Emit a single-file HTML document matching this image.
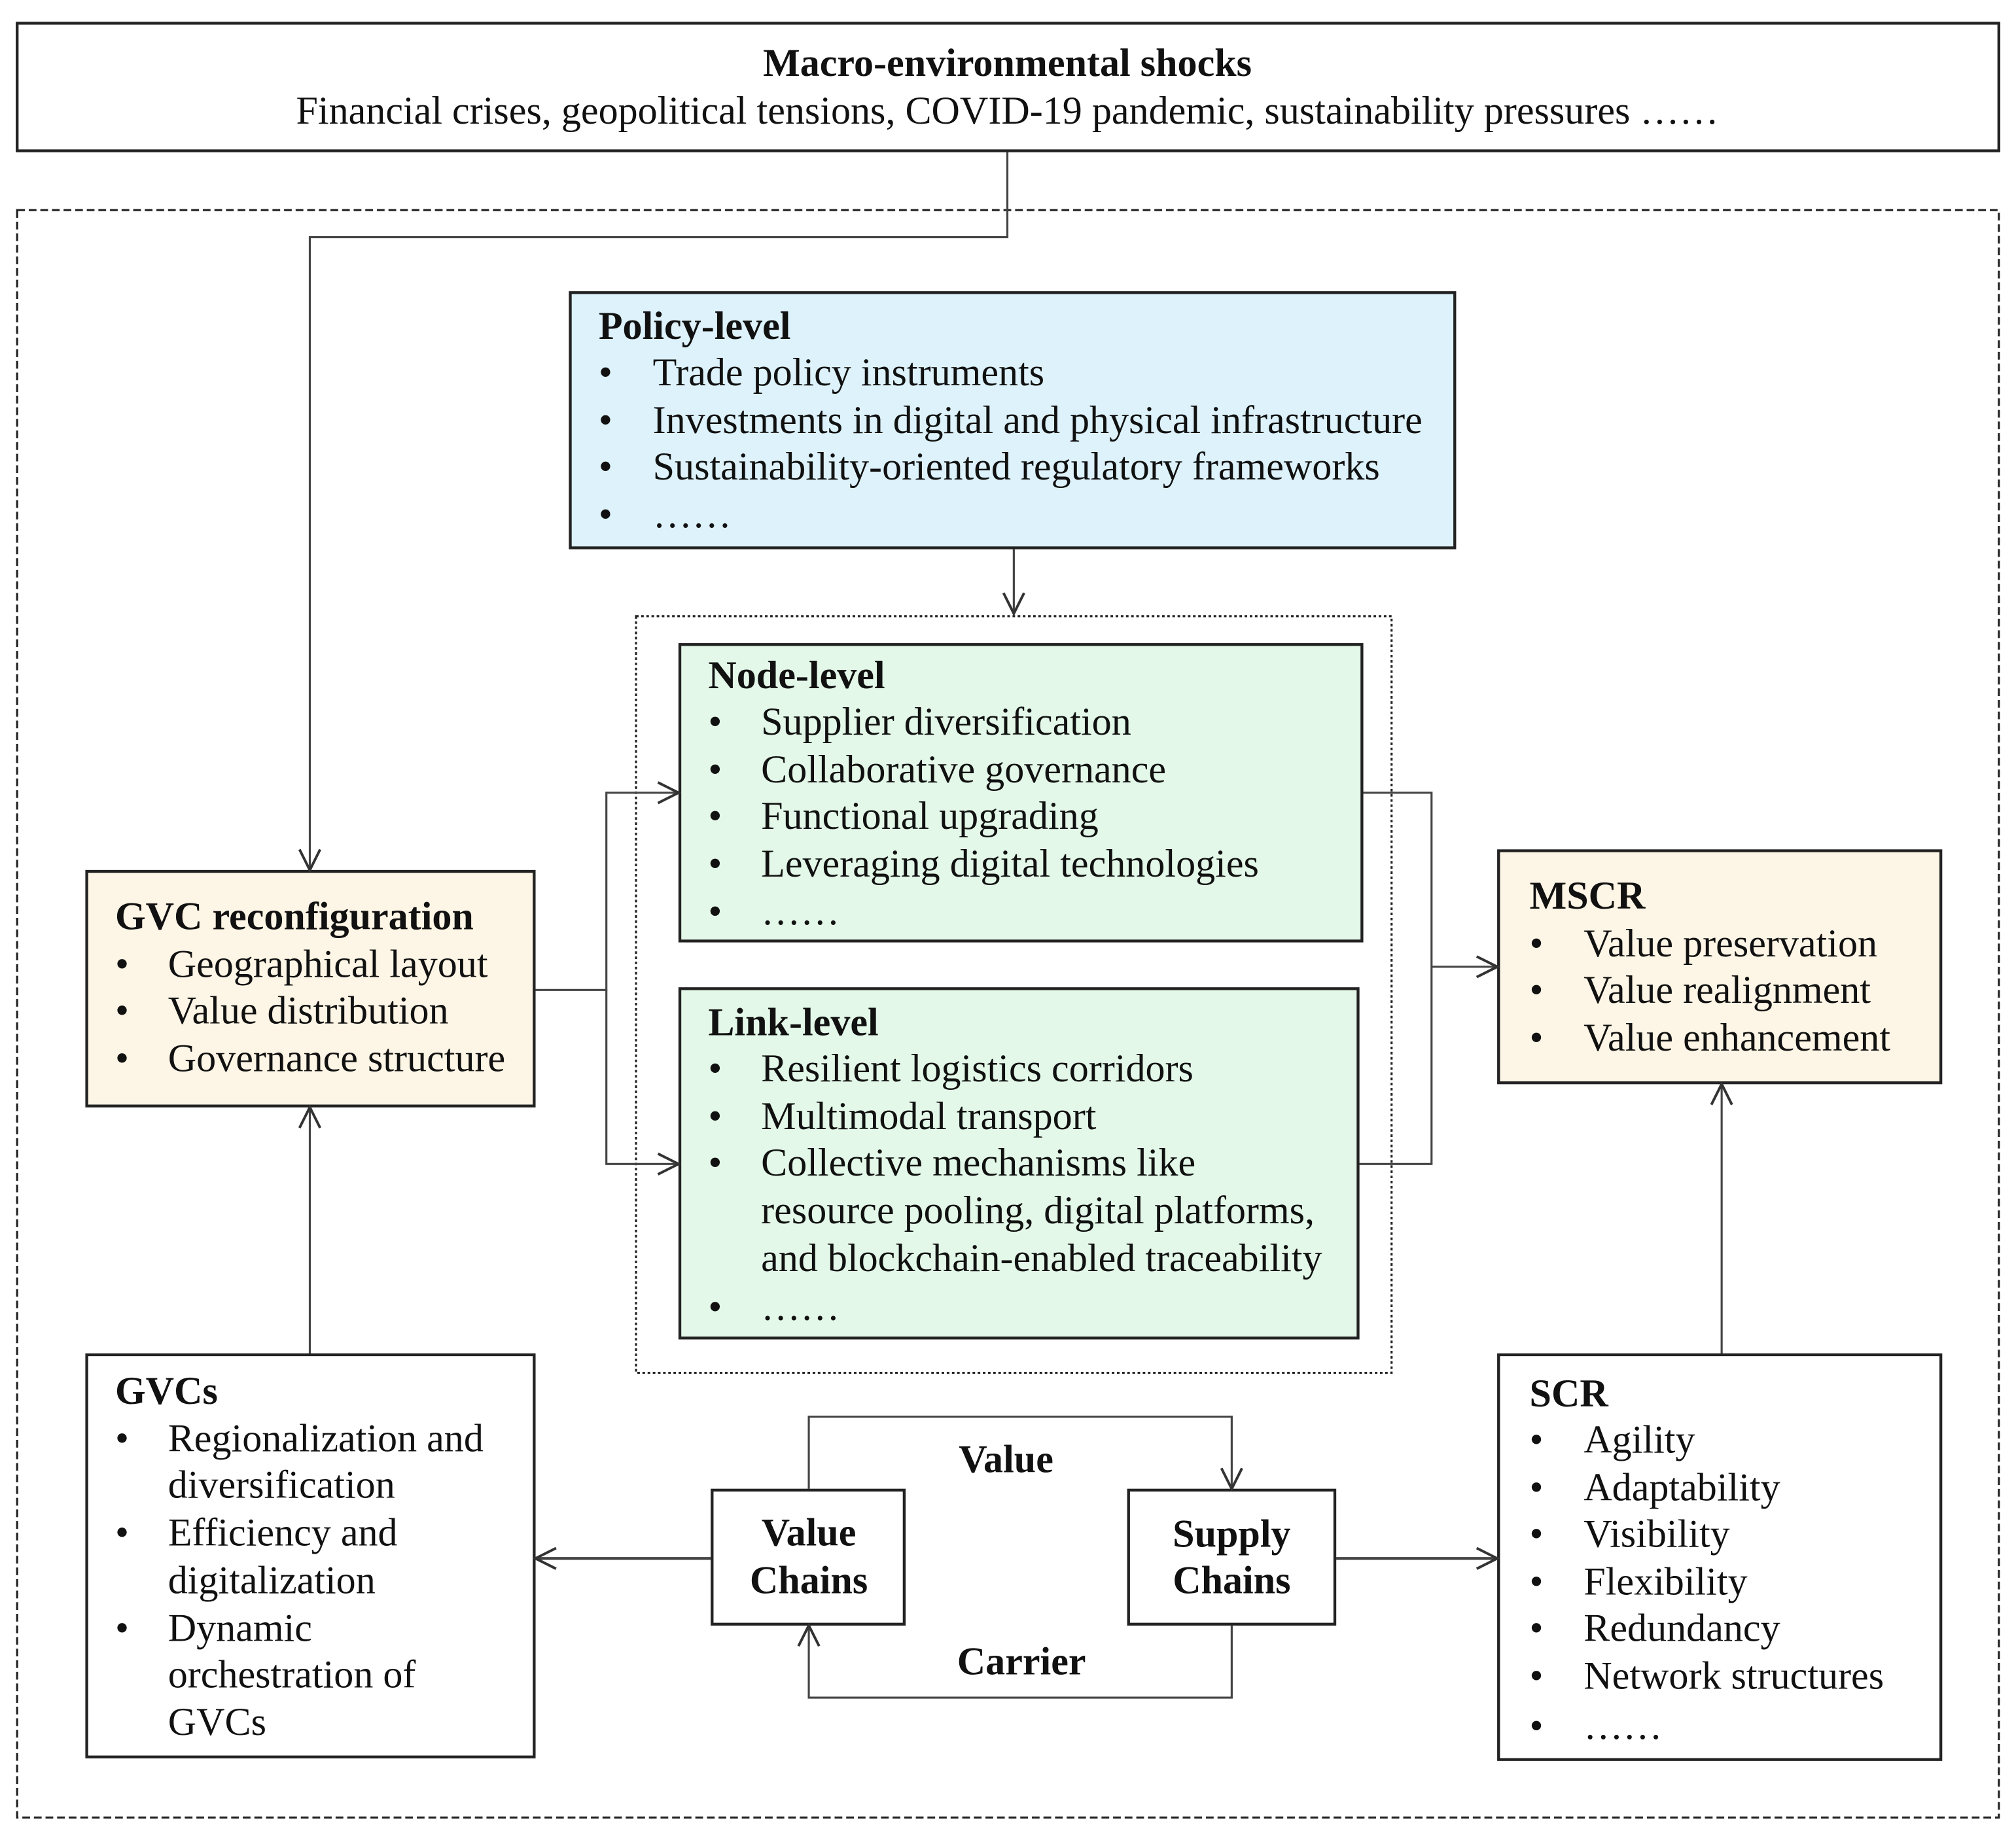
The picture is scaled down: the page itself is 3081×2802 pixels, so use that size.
<!DOCTYPE html>
<html><head><meta charset="utf-8"><style>html,body{margin:0;padding:0;background:#fff}svg{display:block}</style></head><body>
<svg width="3081" height="2802" viewBox="0 0 1563 1422" xmlns="http://www.w3.org/2000/svg" font-family="'Liberation Serif', 'Times New Roman', serif" font-size="30.5" fill="#111">
<defs>
<marker id="a" viewBox="0 0 20 20" refX="18" refY="10" markerWidth="20" markerHeight="20" markerUnits="userSpaceOnUse" orient="auto">
<polyline points="2,2 18,10 2,18" fill="none" stroke="#333" stroke-width="2"/></marker>
</defs>
<g fill="none" stroke="#222" stroke-width="2.2">
<rect x="13" y="18" width="1537" height="99" fill="#fff"/>
<rect x="13" y="163" width="1537" height="1247" stroke-dasharray="6,3" stroke-width="1.6"/>
<rect x="493" y="478" width="586" height="587" stroke-dasharray="2,2" stroke-width="1.6"/>
<rect x="442" y="227" width="686" height="198" fill="#ddf2fa"/>
<rect x="527" y="500" width="529" height="230" fill="#e3f8e8"/>
<rect x="527" y="767" width="526" height="271" fill="#e3f8e8"/>
<rect x="67" y="676" width="347" height="182" fill="#fdf5e5"/>
<rect x="1162" y="660" width="343" height="180" fill="#fdf5e5"/>
<rect x="67" y="1051" width="347" height="312" fill="#fff"/>
<rect x="1162" y="1051" width="343" height="314" fill="#fff"/>
<rect x="552" y="1156" width="149" height="104" fill="#fff"/>
<rect x="875" y="1156" width="160" height="104" fill="#fff"/>
</g>
<g fill="none" stroke="#444" stroke-width="1.6">
<polyline points="781,118 781,184 240,184 240,675" marker-end="url(#a)"/>
<line x1="786" y1="426" x2="786" y2="476" marker-end="url(#a)"/>
<polyline points="415,768 470,768 470,615 526,615" marker-end="url(#a)"/>
<polyline points="470,768 470,903 526,903" marker-end="url(#a)"/>
<polyline points="1057,615 1110,615 1110,903 1054,903"/>
<line x1="1110" y1="750" x2="1161" y2="750" marker-end="url(#a)"/>
<line x1="240" y1="1050" x2="240" y2="859" marker-end="url(#a)"/>
<line x1="1335" y1="1050" x2="1335" y2="841" marker-end="url(#a)"/>
<polyline points="627,1155 627,1099 955,1099 955,1155" marker-end="url(#a)"/>
<polyline points="955,1261 955,1317 627,1317 627,1261" marker-end="url(#a)"/>
<line x1="551" y1="1209" x2="415" y2="1209" marker-end="url(#a)" stroke-width="2.2"/>
<line x1="1036" y1="1209" x2="1161" y2="1209" marker-end="url(#a)" stroke-width="2.2"/>
</g>
<text x="781" y="59" text-anchor="middle" font-weight="bold">Macro-environmental shocks</text>
<text x="781" y="96" text-anchor="middle">Financial crises, geopolitical tensions, COVID-19 pandemic, sustainability pressures ……</text>

<text x="464" y="263" font-weight="bold">Policy-level</text>
<g><text x="464" y="299">•</text><text x="506" y="299">Trade policy instruments</text>
<text x="464" y="336">•</text><text x="506" y="336">Investments in digital and physical infrastructure</text>
<text x="464" y="372">•</text><text x="506" y="372">Sustainability-oriented regulatory frameworks</text>
<text x="464" y="409">•</text><text x="506" y="409">……</text></g>

<text x="549" y="534" font-weight="bold">Node-level</text>
<text x="549" y="570">•</text><text x="590" y="570">Supplier diversification</text>
<text x="549" y="607">•</text><text x="590" y="607">Collaborative governance</text>
<text x="549" y="643">•</text><text x="590" y="643">Functional upgrading</text>
<text x="549" y="680">•</text><text x="590" y="680">Leveraging digital technologies</text>
<text x="549" y="717">•</text><text x="590" y="717">……</text>

<text x="549" y="803" font-weight="bold">Link-level</text>
<text x="549" y="839">•</text><text x="590" y="839">Resilient logistics corridors</text>
<text x="549" y="876">•</text><text x="590" y="876">Multimodal transport</text>
<text x="549" y="912">•</text><text x="590" y="912">Collective mechanisms like</text>
<text x="590" y="949">resource pooling, digital platforms,</text>
<text x="590" y="986">and blockchain-enabled traceability</text>
<text x="549" y="1024">•</text><text x="590" y="1024">……</text>

<text x="89" y="721" font-weight="bold">GVC reconfiguration</text>
<text x="89" y="758">•</text><text x="130" y="758">Geographical layout</text>
<text x="89" y="794">•</text><text x="130" y="794">Value distribution</text>
<text x="89" y="831">•</text><text x="130" y="831">Governance structure</text>

<text x="1186" y="705" font-weight="bold">MSCR</text>
<text x="1186" y="742">•</text><text x="1228" y="742">Value preservation</text>
<text x="1186" y="778">•</text><text x="1228" y="778">Value realignment</text>
<text x="1186" y="815">•</text><text x="1228" y="815">Value enhancement</text>

<text x="89" y="1089" font-weight="bold">GVCs</text>
<text x="89" y="1126">•</text><text x="130" y="1126">Regionalization and</text>
<text x="130" y="1162">diversification</text>
<text x="89" y="1199">•</text><text x="130" y="1199">Efficiency and</text>
<text x="130" y="1236">digitalization</text>
<text x="89" y="1273">•</text><text x="130" y="1273">Dynamic</text>
<text x="130" y="1309">orchestration of</text>
<text x="130" y="1346">GVCs</text>

<text x="1186" y="1091" font-weight="bold">SCR</text>
<text x="1186" y="1127">•</text><text x="1228" y="1127">Agility</text>
<text x="1186" y="1164">•</text><text x="1228" y="1164">Adaptability</text>
<text x="1186" y="1200">•</text><text x="1228" y="1200">Visibility</text>
<text x="1186" y="1237">•</text><text x="1228" y="1237">Flexibility</text>
<text x="1186" y="1273">•</text><text x="1228" y="1273">Redundancy</text>
<text x="1186" y="1310">•</text><text x="1228" y="1310">Network structures</text>
<text x="1186" y="1349">•</text><text x="1228" y="1349">……</text>

<g font-weight="bold" text-anchor="middle">
<text x="627" y="1199">Value</text><text x="627" y="1236">Chains</text>
<text x="955" y="1200">Supply</text><text x="955" y="1236">Chains</text>
<text x="780" y="1142">Value</text>
<text x="792" y="1299">Carrier</text>
</g>
</svg>
</body></html>
